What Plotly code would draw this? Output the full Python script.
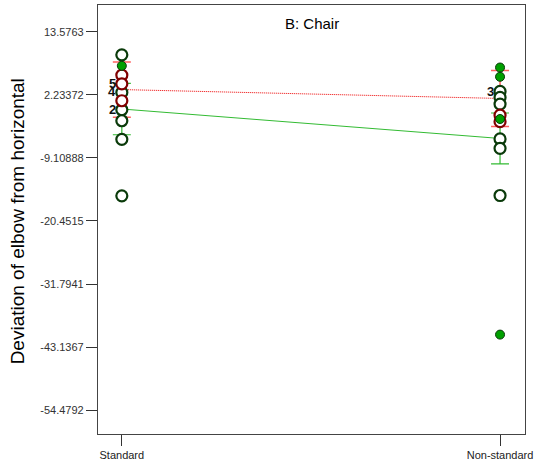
import plotly.graph_objects as go

categories = ["Standard", "Non-standard"]

# Means of the two series (interaction lines) and LSD half-widths
red_means = [3.2, 1.6]
red_halfwidth = [4.97, 5.03]
green_means = [-0.3, -5.6]
green_halfwidth = [4.63, 4.58]

# Design points
std_hollow_green = [9.45, 2.68, -0.43, -2.41, -5.76, -15.93]
std_hollow_red = [5.80, 4.24, 1.19]
std_filled_green = [7.47]
ns_hollow_green = [2.86, 1.78, 0.59, -5.69, -7.38, -15.87]
ns_hollow_red = [-1.4, -2.58]
ns_filled_green = [7.17, 5.50, -2.10, -40.9]

# Count labels
std_count_vals = [4.3, 2.9, -0.43]
std_count_text = ["5", "4", "2"]
ns_count_vals = [2.86]
ns_count_text = ["3"]

ytick_vals = [13.5763, 2.23372, -9.10888, -20.4515, -31.7941, -43.1367, -54.4792]
ytick_text = ["13.5763", "2.23372", "-9.10888", "-20.4515", "-31.7941", "-43.1367", "-54.4792"]

fig = go.Figure()

fig.add_trace(go.Scatter(
    x=categories, y=green_means, mode="lines",
    line=dict(color="#33bb33", width=1),
    error_y=dict(type="data", array=green_halfwidth, color="#33bb33", thickness=1.2, width=9),
    hoverinfo="skip"))
fig.add_trace(go.Scatter(
    x=categories, y=red_means, mode="lines",
    line=dict(color="#ee0000", width=1, dash="1px,1px"),
    error_y=dict(type="data", array=red_halfwidth, color="#ff6060", thickness=1.5, width=9),
    hoverinfo="skip"))

def pts(cat, vals, kind):
    if kind == "hg":
        m = dict(size=11, color="white", line=dict(color="#0a3a0a", width=2.2))
    elif kind == "hr":
        m = dict(size=11, color="white", line=dict(color="#800000", width=2.2))
    else:
        m = dict(size=9, color="#00a000", line=dict(color="#0a3a0a", width=1))
    return go.Scatter(x=[cat] * len(vals), y=vals, mode="markers", marker=m)

fig.add_trace(pts("Standard", std_hollow_green, "hg"))
fig.add_trace(pts("Standard", std_hollow_red, "hr"))
fig.add_trace(pts("Standard", std_filled_green, "fg"))
fig.add_trace(pts("Non-standard", ns_hollow_green, "hg"))
fig.add_trace(pts("Non-standard", ns_hollow_red, "hr"))
fig.add_trace(pts("Non-standard", ns_filled_green, "fg"))

annotations = []
for cat, vals, texts in [("Standard", std_count_vals, std_count_text),
                         ("Non-standard", ns_count_vals, ns_count_text)]:
    for v, t in zip(vals, texts):
        annotations.append(dict(
            x=cat, y=v, xref="x", yref="y", text="<b>%s</b>" % t, showarrow=False,
            xanchor="right", yanchor="middle", xshift=-4,
            font=dict(family="Liberation Sans", size=13, color="#111111")))

plot_left, plot_right, plot_top, plot_bottom = 98, 10, 4, 36
plot_w = 537 - plot_left - plot_right
plot_h = 470 - plot_top - plot_bottom
annotations.append(dict(
    text="B: Chair", x=0.5, y=1 - (22.5 - plot_top) / plot_h,
    xref="paper", yref="paper", yanchor="middle", showarrow=False,
    font=dict(family="Liberation Sans", size=15, color="black")))
annotations.append(dict(
    text="Deviation of elbow from horizontal", textangle=-90,
    x=-(plot_left - 17.5) / plot_w, y=1 - (221 - plot_top) / plot_h,
    xref="paper", yref="paper", xanchor="center", yanchor="middle", showarrow=False,
    font=dict(family="Liberation Sans", size=19, color="black")))

fig.update_layout(
    width=537, height=470,
    margin=dict(l=plot_left, r=plot_right, t=plot_top, b=plot_bottom),
    paper_bgcolor="white", plot_bgcolor="white",
    showlegend=False,
    font=dict(family="Liberation Sans", color="#333333"),
    annotations=annotations,
)

fig.update_xaxes(
    type="category", categoryorder="array", categoryarray=categories,
    range=[-0.063, 1.066], showgrid=False, zeroline=False,
    showline=True, linecolor="#444444", linewidth=1.2, mirror=True,
    ticks="outside", ticklen=11, tickcolor="#333333",
    tickfont=dict(size=11, color="#222222"))
fig.update_yaxes(
    range=[-58.79, 18.42], showgrid=False, zeroline=False,
    showline=True, linecolor="#444444", linewidth=1.2, mirror=True,
    ticks="outside", ticklen=11, tickcolor="#333333",
    tickvals=ytick_vals, ticktext=ytick_text,
    tickfont=dict(size=11, color="#333333"))

fig.write_html("out.html", config={"displayModeBar": False},
               post_script="document.body.style.margin='0';")
